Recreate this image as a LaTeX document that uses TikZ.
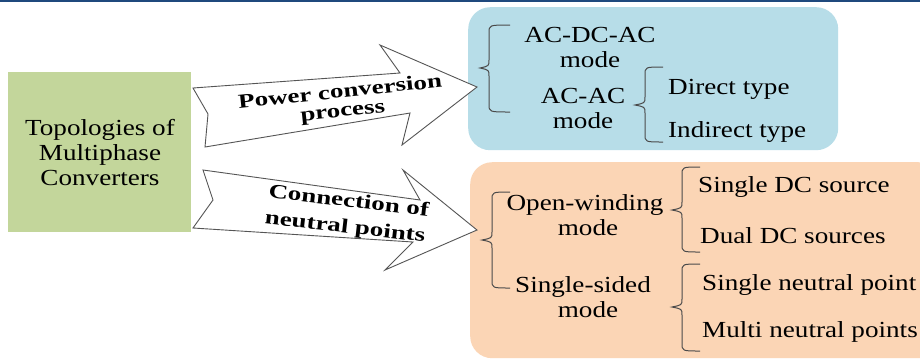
\documentclass[tikz,border=0pt]{standalone}
\usepackage{fontspec}
\setmainfont{Liberation Serif}[FakeStretch=1.18]
\newfontfamily\arrowfont{Liberation Serif}[FakeStretch=1.35]
\definecolor{topline}{HTML}{1F497D}
\definecolor{greenbox}{HTML}{C3D69B}
\definecolor{bluebox}{HTML}{B7DDE8}
\definecolor{orangebox}{HTML}{FBD5B5}
\definecolor{bracecol}{HTML}{4A4A4A}
\definecolor{arrowline}{HTML}{555555}
\tikzset{
  txt/.style={inner sep=0pt, font=\fontsize{23}{25}\selectfont, text=black},
  lbl/.style={txt, anchor=base west},
  mlbl/.style={txt, anchor=base},
  arrowtxt/.style={inner sep=0pt, font=\arrowfont\bfseries\fontsize{20}{24}\selectfont, text=black},
  bigarrow/.style={draw=arrowline, fill=white, line width=0.9pt, line join=miter},
  bracepath/.style={draw=bracecol, line width=1pt},
}
% brace: #1 = x of tip, #2 = x of vertical, #3 = x of ends, #4 = top y, #5 = tip y, #6 = bottom y
\newcommand{\mybrace}[6]{%
  \draw[bracepath] (#3,#4) .. controls (#2,#4) and (#2,#4) .. (#2,#4+8)
    -- (#2,#5-8) .. controls (#2,#5-2) .. (#1,#5)
    .. controls (#2,#5+2) .. (#2,#5+8)
    -- (#2,#6-8) .. controls (#2,#6) and (#2,#6) .. (#3,#6);}
\begin{document}
\begin{tikzpicture}[x=1pt,y=-1pt]
\useasboundingbox (0,0) rectangle (920,360);
\fill[white] (0,0) rectangle (920,360);
\fill[topline] (0,0) rectangle (920,2.2);

% boxes
\node[fill=greenbox, minimum width=183pt, minimum height=160pt, inner sep=0pt, anchor=north west] (topo) at (8,72) {};
\node[fill=bluebox, rounded corners=22pt, minimum width=370pt, minimum height=143pt, inner sep=0pt, anchor=north west] (power) at (468,7) {};
\node[fill=orangebox, rounded corners=22pt, minimum width=470pt, minimum height=196pt, inner sep=0pt, anchor=north west] (neutral) at (470,162) {};

% green text
\node[mlbl] (t1) at (100,135) {Topologies of};
\node[mlbl] (t2) at (100,160) {Multiphase};
\node[mlbl] (t3) at (100,185) {Converters};

% arrows
\draw[bigarrow] (193,88) -- (400,73) -- (380,45) -- (477,87) -- (402,145) -- (410,113) -- (205,147) -- (208,114) -- cycle;
\draw[bigarrow] (203,170) -- (420,200) -- (403,170) -- (477,230) -- (385,270) -- (413,242) -- (193,228) -- (213,200) -- cycle;
\node[arrowtxt, rotate=6] (a1a) at (340,91) {Power conversion};
\node[arrowtxt, rotate=6] (a1b) at (343,114) {process};
\node[arrowtxt, rotate=-6.5] (a2a) at (349,200) {Connection of};
\node[arrowtxt, rotate=-6.5] (a2b) at (345,228) {neutral points};

% blue box content
\mybrace{480}{489}{510}{25}{68}{112}
\node[mlbl] (acdcac) at (590,42) {AC-DC-AC};
\node[mlbl] (m1) at (590,67) {mode};
\node[mlbl] (acac) at (583,103) {AC-AC};
\node[mlbl] (m2) at (583,128) {mode};
\mybrace{635}{645}{663}{67}{105}{142}
\node[lbl] (direct) at (668,94) {Direct type};
\node[lbl] (indirect) at (668,137) {Indirect type};

% orange box content
\mybrace{482}{492}{510}{192}{240}{288}
\node[mlbl] (ow) at (585,210) {Open-winding};
\node[mlbl] (m3) at (588,235) {mode};
\node[mlbl] (ss) at (583,292) {Single-sided};
\node[mlbl] (m4) at (588,317) {mode};
\mybrace{672}{682}{700}{167}{210}{252}
\node[lbl] (sdc) at (698,192) {Single DC source};
\node[lbl] (ddc) at (700,243) {Dual DC sources};
\mybrace{672}{682}{700}{264}{307}{351}
\node[lbl] (snp) at (702,290) {Single neutral point};
\node[lbl] (mnp) at (702,337) {Multi neutral points};
\end{tikzpicture}
\end{document}
